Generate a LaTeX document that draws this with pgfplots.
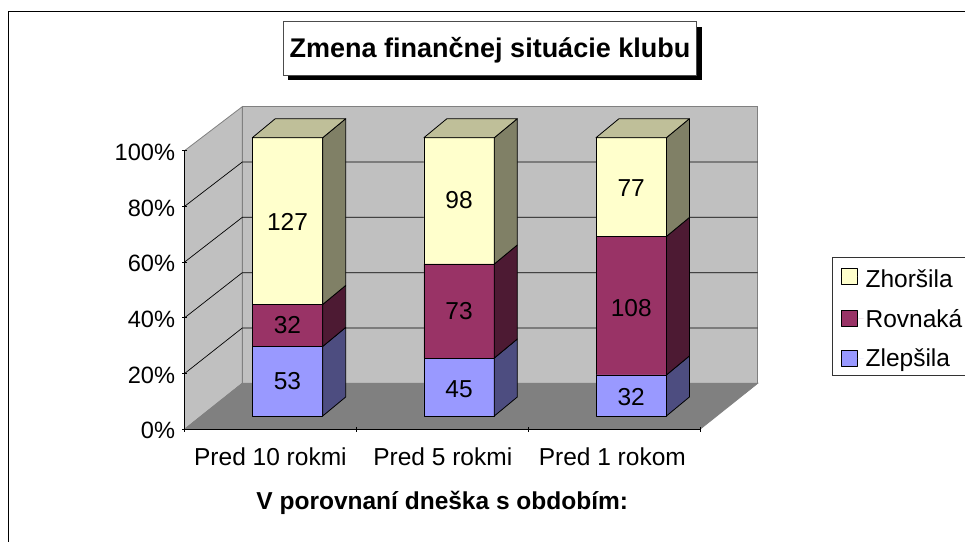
\documentclass[border=0pt]{standalone}
\usepackage{fontspec}
\setmainfont{Liberation Sans}
\usepackage{pgfplots}
\pgfplotsset{compat=1.18}
\newcommand{\lab}{\fontsize{24.5}{28}\selectfont}
\definecolor{wall}{HTML}{C0C0C0}
\definecolor{floorc}{HTML}{808080}
\definecolor{zlep}{HTML}{9999FF}
\definecolor{zlepS}{HTML}{4D4D80}
\definecolor{rovn}{HTML}{993366}
\definecolor{rovnS}{HTML}{4D1A33}
\definecolor{zhor}{HTML}{FFFFCC}
\definecolor{zhorS}{HTML}{808066}
\definecolor{zhorT}{HTML}{BFBF99}
\pgfplotsset{
  plate/.style={scale only axis, width=515.5pt, height=278.3pt, at={(0pt,13.3pt)},
    xmin=184.5, xmax=700, ymin=0, ymax=100, clip=false, hide axis},
  face/.style={draw=black, line width=0.8pt, line join=round},
}
\begin{document}
\begin{tikzpicture}[x=1pt,y=1pt]
% chart frame, runs off the page on the right and at the bottom
\draw[line width=0.9pt] (-176,-125) -- (-176,417.8) -- (800,417.8);
% title box with its shadow
\fill[black] (103.8,349.3) rectangle (517.2,402.6);
\draw[fill=white, draw=black!70, line width=0.7pt] (98.8,354.3) rectangle (512.2,407.6);
\node[anchor=base, font=\fontsize{27}{30}\selectfont\bfseries, inner sep=0pt] at (305.5,371.3) {Zmena finančnej situácie klubu};

% walls, floor and axes (x in picture units, y in percent of the front plane)
\begin{axis}[
  scale only axis, width=515.5pt, height=278.6pt,
  xmin=184.5, xmax=700, ymin=0, ymax=100,
  clip=false, axis on top,
  axis x line=bottom, axis y line=left,
  axis line style={-, line width=0.9pt},
  tick style={black, line width=0.8pt},
  ytick={0,20,40,60,80,100},
  yticklabel={\pgfmathprintnumber{\tick}\%},
  /pgf/number format/assume math mode=true,
  xtick={184.5,356.3,528.2,700},
  xticklabels={},
  extra x ticks={270.4,442.8,612.3},
  extra x tick labels={Pred 10 rokmi,Pred 5 rokmi,Pred 1 rokom},
  extra x tick style={major tick length=0pt, tick label style={yshift=-16pt}},
  major tick length=4.5pt,
  tick label style={font=\lab, inner sep=2pt},
  yticklabel style={font=\fontsize{23.6}{28}\selectfont, xshift=-5pt, yshift=-1.5pt},
  xlabel={V porovnaní dneška s obdobím:},
  xlabel style={font=\lab\bfseries, yshift=-18pt},
]
\addplot[fill=wall, draw=floorc, line width=0.8pt] coordinates {(184.5,0) (242.3,16.51) (242.3,115.8) (184.5,100)} -- cycle;
\addplot[fill=wall, draw=floorc, line width=0.8pt] coordinates {(242.3,16.51) (757.7,16.51) (757.7,115.8) (242.3,115.8)} -- cycle;
\addplot[fill=floorc, draw=floorc, line width=0.8pt] coordinates {(184.5,0) (700,0) (757.7,16.51) (242.3,16.51)} -- cycle;
% grid lines, side wall then back wall
\addplot[black, line width=0.7pt] coordinates {(184.5,20) (242.3,36.37) (757.7,36.37)};
\addplot[black, line width=0.7pt] coordinates {(184.5,40) (242.3,56.22) (757.7,56.22)};
\addplot[black, line width=0.7pt] coordinates {(184.5,60) (242.3,76.08) (757.7,76.08)};
\addplot[black, line width=0.7pt] coordinates {(184.5,80) (242.3,95.94) (757.7,95.94)};
\end{axis}

% front faces, percentages of each period
\begin{axis}[plate, ybar stacked, bar width=70.4pt,
  reverse legend,
  legend style={at={(axis cs:832.3,57.24)}, anchor=north west, draw=black!80, line width=0.8pt,
    font=\lab, inner xsep=8.5pt, inner ysep=5.5pt, row sep=16pt,
    nodes={inner sep=2pt, anchor=west}, cells={anchor=west}},
  legend image code/.code={\draw[#1] (0pt,-8pt) rectangle (16pt,8pt); \path[draw=none] (0pt,0pt) -- (22pt,0pt);},
]
\addplot[fill=zlep, face] coordinates {(287.5,25.00) (459.1,20.83) (631.2,14.75)};
\addlegendentry{Zlepšila}
\addplot[fill=rovn, face] coordinates {(287.5,15.09) (459.1,33.80) (631.2,49.77)};
\addlegendentry{Rovnaká}
\addplot[fill=zhor, face] coordinates {(287.5,59.91) (459.1,45.37) (631.2,35.48)};
\addlegendentry{\rule{0pt}{23pt}Zhoršila}
\end{axis}

% side and top faces, and the counts
\begin{axis}[plate]
\addplot[fill=zlepS, face] coordinates {(322.7,0) (345.7,6.83) (345.7,31.83) (322.7,25)} -- cycle;
\addplot[fill=rovnS, face] coordinates {(322.7,25) (345.7,31.83) (345.7,46.92) (322.7,40.09)} -- cycle;
\addplot[fill=zhorS, face] coordinates {(322.7,40.09) (345.7,46.92) (345.7,106.83) (322.7,100)} -- cycle;
\addplot[fill=zhorT, face] coordinates {(252.3,100) (322.7,100) (345.7,106.83) (275.3,106.83)} -- cycle;
\addplot[fill=zlepS, face] coordinates {(494.3,0) (517.3,6.83) (517.3,27.66) (494.3,20.83)} -- cycle;
\addplot[fill=rovnS, face] coordinates {(494.3,20.83) (517.3,27.66) (517.3,61.46) (494.3,54.63)} -- cycle;
\addplot[fill=zhorS, face] coordinates {(494.3,54.63) (517.3,61.46) (517.3,106.83) (494.3,100)} -- cycle;
\addplot[fill=zhorT, face] coordinates {(423.9,100) (494.3,100) (517.3,106.83) (446.9,106.83)} -- cycle;
\addplot[fill=zlepS, face] coordinates {(666.4,0) (689.4,6.83) (689.4,21.58) (666.4,14.75)} -- cycle;
\addplot[fill=rovnS, face] coordinates {(666.4,14.75) (689.4,21.58) (689.4,71.35) (666.4,64.52)} -- cycle;
\addplot[fill=zhorS, face] coordinates {(666.4,64.52) (689.4,71.35) (689.4,106.83) (666.4,100)} -- cycle;
\addplot[fill=zhorT, face] coordinates {(596,100) (666.4,100) (689.4,106.83) (619,106.83)} -- cycle;
\addplot[draw=none, nodes near coords, point meta=explicit symbolic, nodes near coords align={center},
  every node near coord/.append style={font=\lab, text=black, inner sep=0pt}]
  coordinates {
    (287.5,12.5)[53] (287.5,32.5)[32] (287.5,69.6)[127]
    (459.1,9.7)[45] (459.1,37.7)[73] (459.1,77.6)[98]
    (631.2,6.8)[32] (631.2,38.9)[108] (631.2,82.0)[77]
  };
\end{axis}
\pgfresetboundingbox
\path[use as bounding box] (-184.5,-111.7) rectangle (780.5,429.3);
\end{tikzpicture}
\end{document}
